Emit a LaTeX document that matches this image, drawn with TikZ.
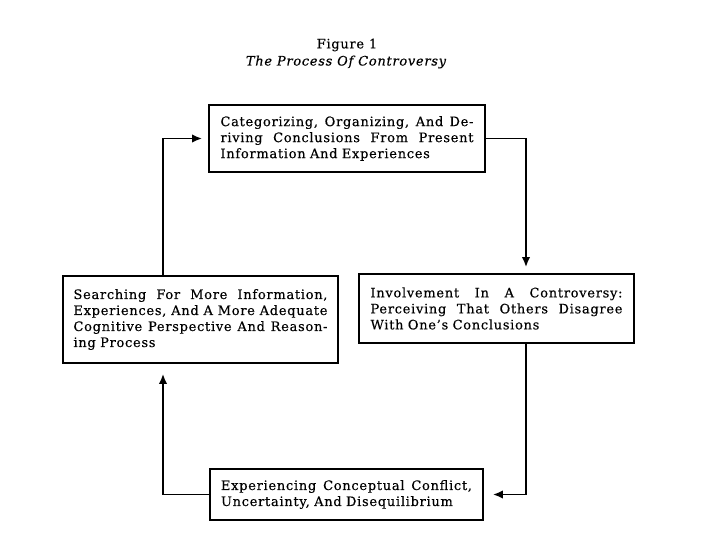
\documentclass[tikz,border=0pt]{standalone}
\usepackage{fontspec}
\setmainfont{DejaVu Serif}[LetterSpace=5.5,FakeBold=0.3]
\usetikzlibrary{arrows.meta}
\newcommand{\jline}[2]{\makebox[#1][s]{\spaceskip=0pt\xspaceskip=0pt #2}}
\begin{document}
\begin{tikzpicture}[x=1pt,y=-1pt,
  boxnode/.style={draw,line width=1.8pt,align=left,inner sep=0pt,
    font=\fontsize{13}{16}\selectfont},
  conn/.style={line width=1.8pt},
  arr/.style={conn,-{Latex[length=10pt,width=8.5pt]}},
  titlefont/.style={font=\fontsize{13}{15}\selectfont}]
\useasboundingbox (0,0) rectangle (716,541);
\node[titlefont] (fig) at (347,45) {Figure 1};
\node[titlefont] (sub) at (346,62) {\itshape The Process Of Controversy};

\node[boxnode,minimum width=276,minimum height=67,text width=253] (top) at (347,138.5)
  {\jline{253pt}{Categorizing, Organizing, And De-}\\
   \jline{253pt}{riving Conclusions From Present}\\
   Information And Experiences};
\node[boxnode,minimum width=275,minimum height=87,text width=254] (left) at (200.5,319.5)
  {\jline{254pt}{Searching For More Information,}\\
   \jline{254pt}{Experiences, And A More Adequate}\\
   \jline{254pt}{Cognitive Perspective And Reason-}\\
   ing Process};
\node[boxnode,minimum width=275,minimum height=69,text width=252] (right) at (496.5,308.5)
  {\jline{252pt}{Involvement In A Controversy:}\\
   \jline{252pt}{Perceiving That Others Disagree}\\
   With One's Conclusions};
\node[boxnode,minimum width=273,minimum height=51,text width=251] (bot) at (346.5,494.5)
  {\jline{251pt}{Experiencing Conceptual Conflict,}\\
   Uncertainty, And Disequilibrium};

\coordinate (c1) at (526,138.5);
\coordinate (c2) at (526,494.5);
\coordinate (c3) at (163,494.5);
\coordinate (c4) at (163,138.5);

\draw[arr,shorten >=6pt] (top.east) -- (c1) -- (c1 |- right.north);
\draw[arr,shorten >=9pt] (c1 |- right.south) -- (c2) -- (bot.east);
\draw[arr,shorten >=10pt] (bot.west) -- (c3) -- (c3 |- left.south);
\draw[arr,shorten >=6pt] (c4 |- left.north) -- (c4) -- (top.west);
\end{tikzpicture}
\end{document}
